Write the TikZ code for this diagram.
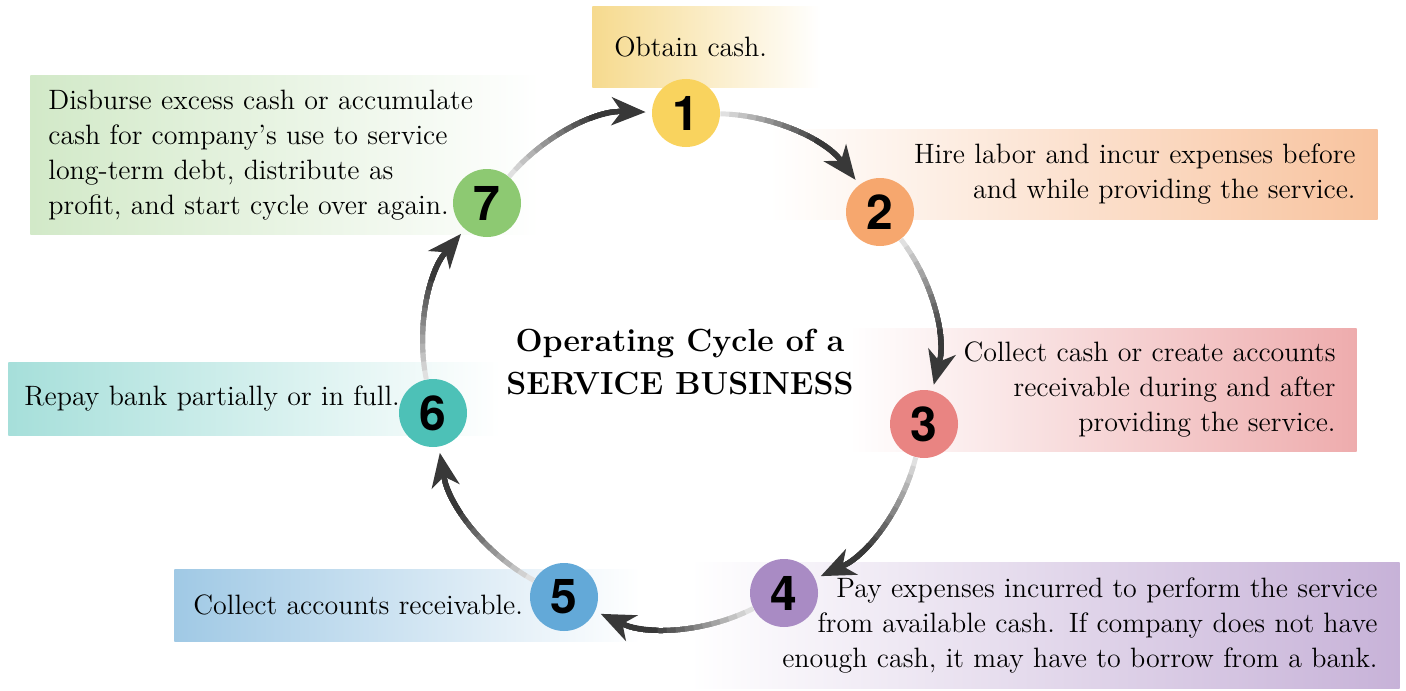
\documentclass[tikz,border=0pt]{standalone}
\usepackage{fontspec}
\newfontfamily\numfont{TeX Gyre Heros}
\usetikzlibrary{arrows.meta}

\definecolor{c1}{HTML}{F9D35E}
\definecolor{c2}{HTML}{F6A76E}
\definecolor{c3}{HTML}{E98482}
\definecolor{c4}{HTML}{A98BC4}
\definecolor{c5}{HTML}{63A9D8}
\definecolor{c6}{HTML}{4DC1B7}
\definecolor{c7}{HTML}{8DC972}
\definecolor{f1}{HTML}{F6DA8E}
\definecolor{f2}{HTML}{F8C39E}
\definecolor{f3}{HTML}{EEACAD}
\definecolor{f4}{HTML}{C7B2D8}
\definecolor{f5}{HTML}{A0C9E5}
\definecolor{f6}{HTML}{A6DFDA}
\definecolor{f7}{HTML}{D2E9C8}

\newcommand{\notefont}{\fontsize{14}{17.5}\selectfont}

% gradient arc from one step to the next
\newcommand{\cyclearrow}[2]{%
  \foreach \k in {0,...,11}{%
    \pgfmathsetmacro{\tone}{12+6*\k}%
    \pgfmathsetmacro{\gapl}{4.5*\k}%
    \draw[ringline, draw=black!\tone, shorten >=16pt,
      dash pattern=on 300pt off \gapl pt, dash phase=300pt] (#1) to (#2);
  }
  \draw[ringline, draw=black!78, -{Stealth[length=17pt, width=14pt, inset=5pt]},
    dash pattern=on 300pt off 50pt, dash phase=300pt] (#1) to (#2);
}

\begin{document}
\begin{tikzpicture}[x=0.5pt, y=-0.5pt,
        stepdot/.style={circle, minimum size=34pt, inner sep=0pt,
          font=\numfont\bfseries\fontsize{24}{24}\selectfont},
        noteleft/.style={rectangle, anchor=north west, align=left, inner xsep=11pt,
          inner ysep=0pt, right color=white, font=\notefont},
        noteright/.style={rectangle, anchor=north east, align=right, inner xsep=11pt,
          inner ysep=0pt, left color=white, font=\notefont},
        ringline/.style={line width=2.5pt, bend left=25.7, looseness=0.9, shorten >=3pt},
        ]
        \useasboundingbox (0,0) rectangle (1406,690);

        % Boxes
        \node[noteleft, left color=f1, minimum width=114pt, minimum height=40.5pt,
          text width=92pt] (t1) at (592,6) {Obtain cash.};
        \node[noteright, right color=f2, minimum width=304pt, minimum height=45pt,
          text width=282pt] (t2) at (1378,129)
          {Hire labor and incur expenses before\\and while providing the service.};
        \node[noteright, right color=f3, minimum width=253.5pt, minimum height=61.5pt,
          inner xsep=10.5pt, text width=232.5pt] (t3) at (1357,328)
          {Collect cash or create accounts\\receivable during and after\\providing the service.};
        \node[noteright, right color=f4, minimum width=355pt, minimum height=63pt,
          text width=333pt] (t4) at (1400,562)
          {Pay expenses incurred to perform the service\\from available cash. If company does not have\\enough cash, it may have to borrow from a bank.};
        \node[noteleft, left color=f5, minimum width=233pt, minimum height=36pt,
          inner xsep=9.5pt, text width=214pt] (t5) at (174,569) {Collect accounts receivable.};
        \node[noteleft, left color=f6, minimum width=246pt, minimum height=36.5pt,
          inner xsep=8pt, text width=230pt] (t6) at (8,362) {Repay bank partially or in full.};
        \node[noteleft, left color=f7, minimum width=255pt, minimum height=79.5pt,
          inner xsep=9pt, text width=237pt] (t7) at (30,75)
          {Disburse excess cash or accumulate\\cash for company’s use to service\\long-term debt, distribute as\\profit, and start cycle over again.};

        % Steps
        \node[stepdot, fill=c1] (s1) at (686,113) {1};
        \node[stepdot, fill=c2] (s2) at (880,212) {2};
        \node[stepdot, fill=c3] (s3) at (924,424) {3};
        \node[stepdot, fill=c4] (s4) at (784,593) {4};
        \node[stepdot, fill=c5] (s5) at (564,597) {5};
        \node[stepdot, fill=c6] (s6) at (433,413) {6};
        \node[stepdot, fill=c7] (s7) at (487,203) {7};

        % The cycle
        \cyclearrow{s1}{s2}
        \cyclearrow{s2}{s3}
        \cyclearrow{s3}{s4}
        \cyclearrow{s4}{s5}
        \cyclearrow{s5}{s6}
        \cyclearrow{s6}{s7}
        \cyclearrow{s7}{s1}

        \node[font=\bfseries\fontsize{16}{21.5}\selectfont, align=center] (title) at (680,362)
          {Operating Cycle of a\\SERVICE BUSINESS};
    \end{tikzpicture}
\end{document}
